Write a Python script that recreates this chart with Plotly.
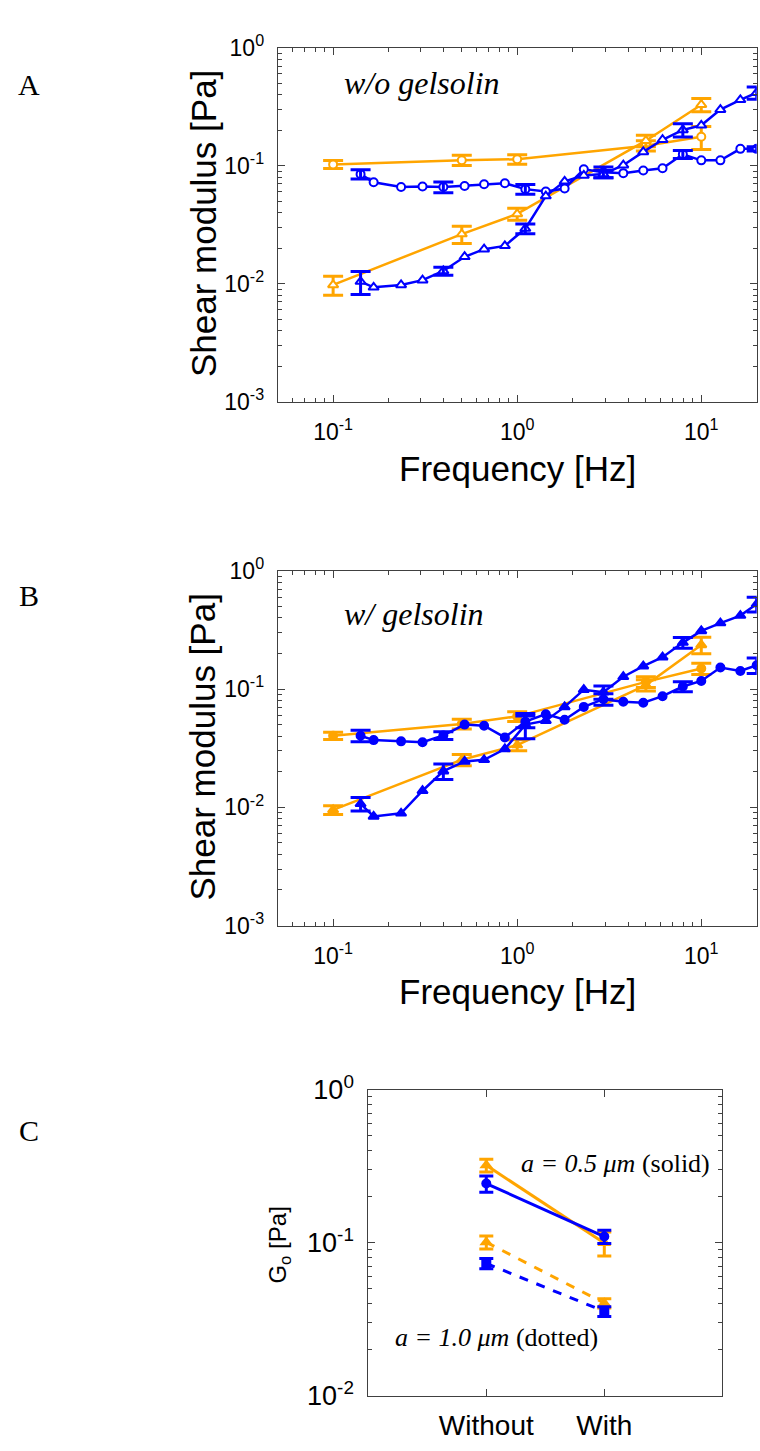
import plotly.graph_objects as go
import math

# ---------------- data ----------------
freq_orange = [0.1, 0.5, 1.0, 5.0, 10.0]
freq_blue = [0.141, 0.166, 0.234, 0.306, 0.397, 0.518, 0.661, 0.857, 1.107, 1.43, 1.81,
             2.30, 2.94, 3.77, 4.84, 6.16, 7.94, 10.0, 12.7, 16.3, 20.0]
blue_err_idx = [0, 4, 8, 12, 16, 20]

# Panel A (w/o gelsolin)
A_orange_circ = [0.1026, 0.1114, 0.1135, 0.148, 0.176]
A_orange_circ_err = [0.008, 0.011, 0.0105, 0.015, 0.039]
A_orange_tri = [0.00975, 0.0263, 0.039, 0.163, 0.329]
A_orange_tri_err = [0.0018, 0.0044, 0.0046, 0.018, 0.042]
A_blue_circ = [0.0848, 0.0723, 0.066, 0.0666, 0.066, 0.0674, 0.0697, 0.071, 0.0633, 0.0605, 0.0641,
               0.0933, 0.0881, 0.0865, 0.091, 0.095, 0.125, 0.111, 0.111, 0.139, 0.139]
A_blue_circ_err = [0.0076, 0.0069, 0.006, 0.0092, 0.0098, 0.006]
A_blue_tri = [0.0104, 0.0093, 0.00975, 0.0107, 0.0128, 0.0169, 0.0196, 0.0209, 0.0293, 0.0553, 0.0737,
              0.0826, 0.085, 0.101, 0.131, 0.166, 0.201, 0.220, 0.299, 0.362, 0.416]
A_blue_tri_err = [0.0023, 0.001, 0.0028, 0.006, 0.026, 0.05]

# Panel B (w/ gelsolin)
B_orange_circ = [0.0403, 0.0507, 0.0587, 0.115, 0.149]
B_orange_circ_err = [0.0028, 0.0048, 0.0055, 0.012, 0.016]
B_orange_tri = [0.0095, 0.0252, 0.0336, 0.108, 0.236]
B_orange_tri_err = [0.0008, 0.0027, 0.0036, 0.012, 0.0375]
B_blue_circ = [0.0403, 0.037, 0.0361, 0.0355, 0.0405, 0.050, 0.049, 0.039, 0.053, 0.0613, 0.055,
               0.0706, 0.082, 0.078, 0.0766, 0.087, 0.105, 0.117, 0.152, 0.142, 0.159]
B_blue_circ_err = [0.0045, 0.003, 0.006, 0.009, 0.010, 0.024]
B_blue_tri = [0.0107, 0.00837, 0.0089, 0.0138, 0.0202, 0.0244, 0.0252, 0.0311, 0.050, 0.054, 0.0706,
              0.0987, 0.094, 0.127, 0.156, 0.186, 0.247, 0.31, 0.361, 0.418, 0.523]
B_blue_tri_err = [0.0014, 0.003, 0.012, 0.012, 0.026, 0.075]

# Panel C
categories = ["Without", "With"]
C_orange_05 = [0.321, 0.100]
C_orange_05_err = [0.031, 0.018]
C_blue_05 = [0.244, 0.110]
C_blue_05_err = [0.030, 0.011]
C_orange_10 = [0.101, 0.0404]
C_orange_10_err = [0.0099, 0.0028]
C_blue_10 = [0.0734, 0.0357]
C_blue_10_err = [0.0057, 0.0026]

major_vals = [0.001, 0.01, 0.1, 1]
major_text = ["10<sup>-3</sup>", "10<sup>-2</sup>", "10<sup>-1</sup>", "10<sup>0</sup>"]
freq_vals = [0.1, 1, 10]
freq_text = ["10<sup>-1</sup>", "10<sup>0</sup>", "10<sup>1</sup>"]

# ---------------- styling ----------------
W, H = 760, 1451
ORANGE = "#FFA500"
BLUE = "#0000FF"
SANS = "Liberation Sans, Arial, sans-serif"
SERIF = "Liberation Serif, Times New Roman, serif"
AXC = "#404040"


def fx(p):
    return p / W


def fy(p):
    return 1 - p / H


def minor_log(lo, hi):
    out = []
    for e in range(lo, hi):
        for m in range(2, 10):
            out.append(m * 10 ** e)
    return out


fig = go.Figure()


def eb(arr, color, w=10, th=3):
    return dict(type="data", array=arr, visible=True, color=color, thickness=th, width=w)


def add_panel(xa, ya, oc, oce, ot, ote, bc, bce, bt, bte, filled):
    for y, e, sym, sz in [(oc, oce, "circle", 8), (ot, ote, "triangle-up", 9)]:
        fig.add_trace(go.Scatter(
            x=freq_orange, y=y, mode="lines+markers", xaxis=xa, yaxis=ya,
            line=dict(color=ORANGE, width=2.5),
            marker=dict(symbol=sym, size=sz, color=ORANGE if filled else "white",
                        line=dict(color=ORANGE, width=2)),
            error_y=eb(e, ORANGE), showlegend=False))
    for y, e, sym, sz in [(bc, bce, "circle", 8), (bt, bte, "triangle-up", 9)]:
        fig.add_trace(go.Scatter(
            x=freq_blue, y=y, mode="lines+markers", xaxis=xa, yaxis=ya,
            line=dict(color=BLUE, width=2.5),
            marker=dict(symbol=sym, size=sz, color=BLUE if filled else "white",
                        line=dict(color=BLUE, width=2)),
            showlegend=False))
        fig.add_trace(go.Scatter(
            x=[freq_blue[i] for i in blue_err_idx], y=[y[i] for i in blue_err_idx],
            mode="markers", xaxis=xa, yaxis=ya,
            marker=dict(size=2, opacity=0),
            error_y=eb(e, BLUE), showlegend=False))


add_panel("x", "y", A_orange_circ, A_orange_circ_err, A_orange_tri, A_orange_tri_err,
          A_blue_circ, A_blue_circ_err, A_blue_tri, A_blue_tri_err, False)
add_panel("x2", "y2", B_orange_circ, B_orange_circ_err, B_orange_tri, B_orange_tri_err,
          B_blue_circ, B_blue_circ_err, B_blue_tri, B_blue_tri_err, True)

for y, e, col, sym, sz, dash in [
    (C_orange_05, C_orange_05_err, ORANGE, "triangle-up", 12, "solid"),
    (C_blue_05, C_blue_05_err, BLUE, "circle", 10, "solid"),
    (C_orange_10, C_orange_10_err, ORANGE, "triangle-up", 12, "dash"),
    (C_blue_10, C_blue_10_err, BLUE, "square", 10, "dash"),
]:
    fig.add_trace(go.Scatter(
        x=categories, y=y, mode="lines+markers", xaxis="x3", yaxis="y3",
        line=dict(color=col, width=3, dash=dash),
        marker=dict(symbol=sym, size=sz, color=col),
        error_y=eb(e, col, w=7, th=3), showlegend=False))

common = dict(showline=True, linecolor=AXC, linewidth=1, mirror="allticks",
              ticks="inside", ticklen=7, tickcolor=AXC, showgrid=False, zeroline=False)

xdomAB = [fx(277.7), fx(756.7)]
logx_rng = [math.log10(0.05), math.log10(20)]


def xlog(anchor):
    return dict(common, type="log", domain=xdomAB, range=logx_rng, anchor=anchor,
                tickmode="array", tickvals=freq_vals, ticktext=freq_text,
                tickfont=dict(family=SANS, size=23, color="black"), ticklabelstandoff=10,
                minor=dict(ticks="inside", ticklen=4, tickcolor=AXC, tickmode="array",
                           tickvals=[v for v in minor_log(-2, 2) if 0.05 <= v <= 20]))


def ylog(anchor, dom, lo, hi, vals, text, fs):
    return dict(common, type="log", domain=dom, range=[lo, hi], anchor=anchor,
                tickmode="array", tickvals=vals, ticktext=text,
                tickfont=dict(family=SANS, size=fs, color="black"), ticklabelstandoff=8,
                minor=dict(ticks="inside", ticklen=4, tickcolor=AXC, tickmode="array",
                           tickvals=minor_log(lo, hi)))


fig.update_layout(
    width=W, height=H, margin=dict(l=0, r=0, t=0, b=0),
    paper_bgcolor="white", plot_bgcolor="white", showlegend=False,
    xaxis=xlog("y"),
    yaxis=ylog("x", [fy(391.7), fy(29.5)], -3, 0, major_vals, major_text, 23),
    xaxis2=xlog("y2"),
    yaxis2=ylog("x2", [fy(928.3), fy(565)], -3, 0, major_vals, major_text, 23),
    xaxis3=dict(common, type="category", domain=[fx(368.3), fx(722.3)], range=[-1, 2],
                anchor="y3", tickfont=dict(family=SANS, size=28, color="black"),
                ticklabelstandoff=4),
    yaxis3=ylog("x3", [fy(1410), fy(1096.5)], -2, 0, major_vals[1:], major_text[1:], 27),
)

ann = []


def txt(t, x, y, size, family=SANS, xanchor="center", angle=0):
    ann.append(dict(text=t, x=fx(x), y=fy(y), xref="paper", yref="paper", showarrow=False,
                    xanchor=xanchor, yanchor="middle", textangle=angle,
                    font=dict(family=family, size=size, color="black")))


txt("A", 29, 67, 30, SERIF)
txt("B", 29, 590, 30, SERIF)
txt("C", 29, 1138, 30, SERIF)
txt("Shear modulus [Pa]", 203, 210, 35, angle=-90)
txt("Shear modulus [Pa]", 203, 746, 35, angle=-90)
txt("Frequency [Hz]", 517, 460, 35)
txt("Frequency [Hz]", 517, 996, 35)
txt("<i>w/o gelsolin</i>", 342, 66, 32, SERIF, xanchor="left")
txt("<i>w/ gelsolin</i>", 342, 609, 32, SERIF, xanchor="left")
txt("G<sub>o</sub> [Pa]", 280, 1256, 24, angle=-90)
txt("<i>a = 0.5 μm</i> (solid)", 519, 1172, 26, SERIF, xanchor="left")
txt("<i>a = 1.0 μm</i> (dotted)", 393, 1350, 26, SERIF, xanchor="left")

fig.update_layout(annotations=ann)
fig.write_html(
    "out.html",
    config={"displayModeBar": False},
    post_script="document.body.style.margin='0';document.body.style.overflow='hidden';",
)
